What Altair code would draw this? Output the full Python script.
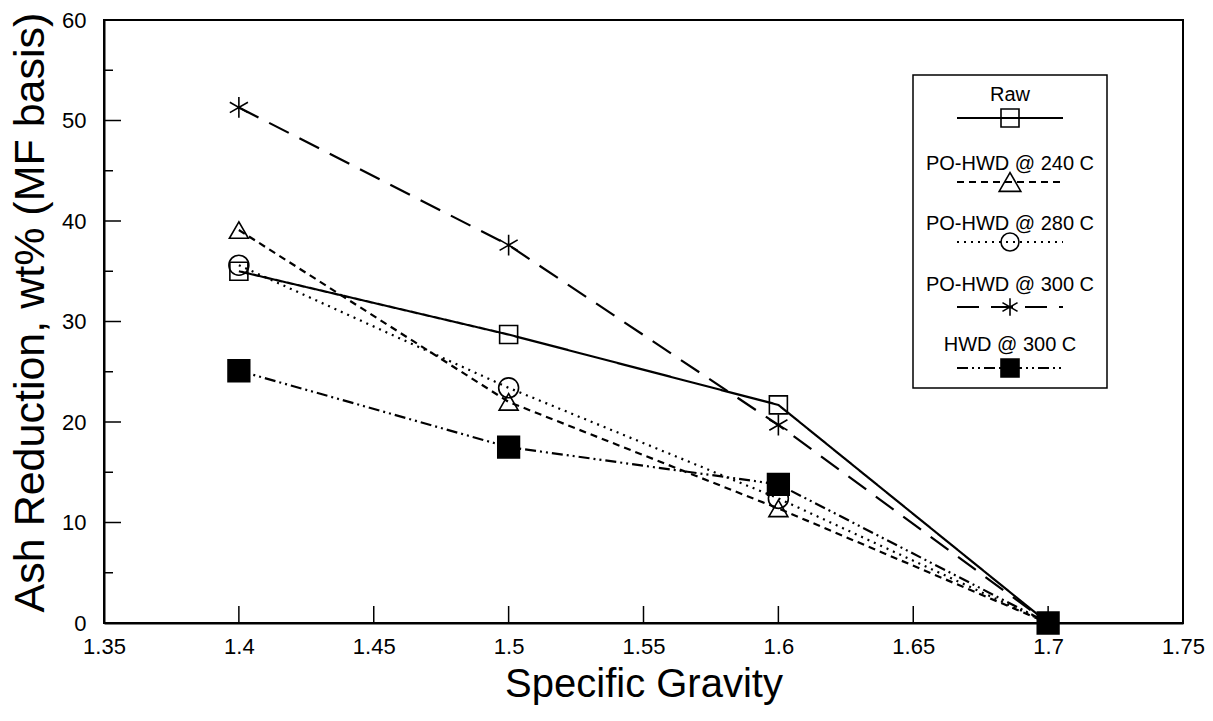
import altair as alt
import pandas as pd

# ---- data ----
sg = [1.4, 1.5, 1.6, 1.7]
series_names = ["Raw", "PO-HWD @ 240 C", "PO-HWD @ 280 C", "PO-HWD @ 300 C", "HWD @ 300 C"]
raw = [35.0, 28.7, 21.7, 0.0]
po_hwd_240 = [39.1, 22.0, 11.4, 0.0]
po_hwd_280 = [35.6, 23.4, 12.4, 0.0]
po_hwd_300 = [51.3, 37.6, 19.7, 0.0]
hwd_300 = [25.1, 17.5, 13.8, 0.0]
all_values = [raw, po_hwd_240, po_hwd_280, po_hwd_300, hwd_300]

x_ticks = [1.35, 1.4, 1.45, 1.5, 1.55, 1.6, 1.65, 1.7, 1.75]
y_major = [0, 10, 20, 30, 40, 50, 60]
y_minor = [5, 15, 25, 35, 45, 55]

# ---- styles ----
STAR = "M0,-1L0,1M-0.87,-0.5L0.87,0.5M-0.87,0.5L0.87,-0.5"
dashes = [[1, 0], [7, 5], [2, 5], [22, 12], [11, 4, 2, 4, 2, 4]]
shapes = ["square", "triangle-up", "circle", STAR, "square"]
fills = ["transparent", "transparent", "transparent", "transparent", "black"]
sizes = [324, 470, 324, 300, 324]

rows = []
for name, vals in zip(series_names, all_values):
    for x, v in zip(sg, vals):
        rows.append({"sg": x, "ash": v, "series": name})
df = pd.DataFrame(rows)

W, H = 1079, 603
FONT = "Liberation Sans"

xscale = alt.Scale(domain=[1.35, 1.75], nice=False, zero=False)
yscale = alt.Scale(domain=[0, 60], nice=False)

x_enc = alt.X("sg:Q", scale=xscale,
              axis=alt.Axis(title="Specific Gravity", values=x_ticks, format=".2~f",
                            labelOverlap=False, labelFlush=False, labelBound=False,
                            labelPadding=13, titleY=73, titleBaseline="alphabetic",
                            titleFontSize=40))
y_enc = alt.Y("ash:Q", scale=yscale,
              axis=alt.Axis(title="Ash Reduction, wt% (MF basis)", values=y_major,
                            labelOverlap=False, labelFlush=False, labelBound=False,
                            labelPadding=18, titleX=-61, titleY=292,
                            titleBaseline="alphabetic", titleFontSize=43))

dash_scale = alt.Scale(domain=series_names, range=dashes)
shape_scale = alt.Scale(domain=series_names, range=shapes)
fill_scale = alt.Scale(domain=series_names, range=fills)
size_scale = alt.Scale(domain=series_names, range=sizes)

lines = alt.Chart(df).mark_line(color="black", strokeWidth=2.2).encode(
    x=x_enc, y=y_enc,
    strokeDash=alt.StrokeDash("series:N", scale=dash_scale, legend=None),
    detail="series:N",
    order="sg:Q",
)

points = alt.Chart(df).mark_point(filled=True, stroke="black", strokeWidth=1.6, opacity=1).encode(
    x="sg:Q", y="ash:Q",
    shape=alt.Shape("series:N", scale=shape_scale, legend=None),
    fill=alt.Fill("series:N", scale=fill_scale, legend=None),
    size=alt.Size("series:N", scale=size_scale, legend=None),
)

# inward ticks
xt = alt.Chart(pd.DataFrame({"sg": x_ticks})).mark_rule(color="black", strokeWidth=1.5).encode(
    x="sg:Q", y=alt.value(H), y2=alt.value(H - 17))
yt = alt.Chart(pd.DataFrame({"ash": y_major})).mark_rule(color="black", strokeWidth=1.5).encode(
    y="ash:Q", x=alt.value(0), x2=alt.value(17))
ytm = alt.Chart(pd.DataFrame({"ash": y_minor})).mark_rule(color="black", strokeWidth=1.5).encode(
    y="ash:Q", x=alt.value(0), x2=alt.value(9))

# custom legend box
one = pd.DataFrame({"k": [0]})
legend_box = alt.Chart(one).mark_rect(fill="white", stroke="black", strokeWidth=1.5).encode(
    x=alt.value(809), x2=alt.value(1003), y=alt.value(55), y2=alt.value(368))

legend_layers = [legend_box]
text_y = [75, 144, 204, 265, 325]
line_y = [98, 162, 222, 287, 348]
cx = 906
for i, name in enumerate(series_names):
    d1 = pd.DataFrame({"series": [name]})
    legend_layers.append(alt.Chart(d1).mark_text(font=FONT, fontSize=20, align="center",
                                                 baseline="middle", color="black").encode(
        x=alt.value(cx), y=alt.value(text_y[i]), text=alt.value(name)))
    legend_layers.append(alt.Chart(d1).mark_rule(color="black", strokeWidth=2.2,
                                                 strokeDash=dashes[i]).encode(
        x=alt.value(cx - 53), x2=alt.value(cx + 53), y=alt.value(line_y[i])))
    legend_layers.append(alt.Chart(d1).mark_point(shape=shapes[i], filled=True, fill=fills[i],
                                                  stroke="black", strokeWidth=1.6, opacity=1,
                                                  size=sizes[i]).encode(
        x=alt.value(cx), y=alt.value(line_y[i])))

chart = alt.layer(xt, yt, ytm, lines, points, *legend_layers).properties(
    width=W, height=H,
    autosize=alt.AutoSizeParams(type="none"),
    padding={"left": 104, "top": 20, "right": 30, "bottom": 98},
    background="white",
).configure_view(stroke="black", strokeWidth=2).configure_axis(
    grid=False, domainColor="black", domainWidth=2, tickSize=0,
    labelFont=FONT, labelFontSize=22, labelColor="black",
    titleFont=FONT, titleColor="black", titleFontWeight="normal",
)

chart.save("out.html", embed_options={"renderer": "svg", "actions": False})
